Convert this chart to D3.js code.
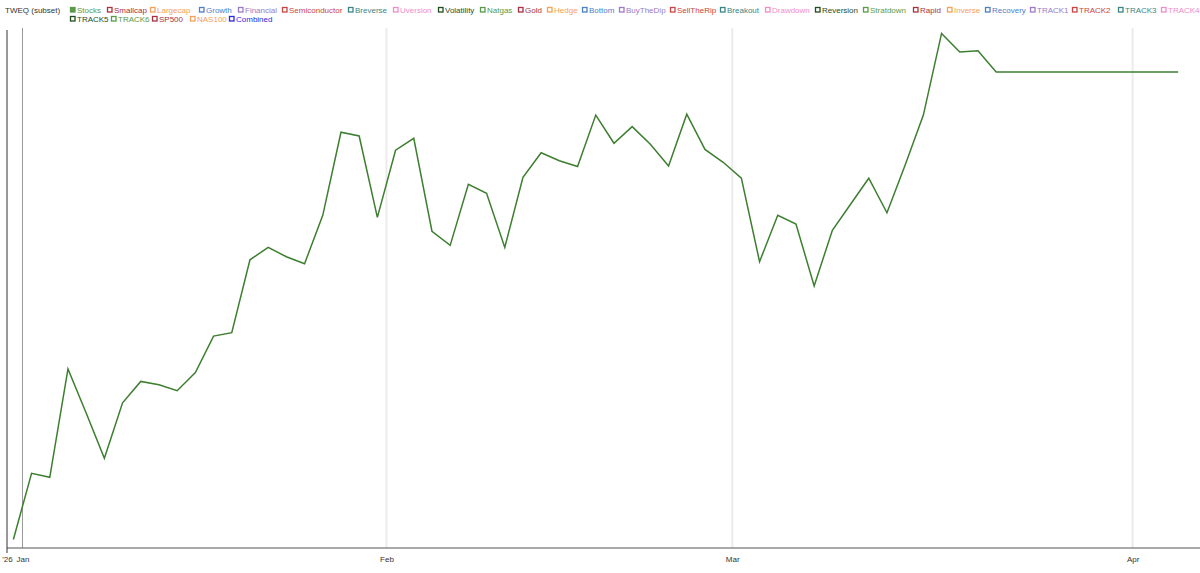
<!DOCTYPE html>
<html>
<head>
<meta charset="utf-8">
<script src="https://cdn.jsdelivr.net/npm/d3@7"></script>
<style>
  body { margin: 0; background: #fff; }
  svg { display: block; font-family: "Liberation Sans", Arial, sans-serif; }
</style>
</head>
<body>
<div id="chart"></div>
<script>
// trading days shown on the x axis (non-trading days collapsed)
var tradingDays = [
    "2025-12-31",
    "2026-01-02", "2026-01-05", "2026-01-06", "2026-01-07", "2026-01-08", "2026-01-09",
    "2026-01-12", "2026-01-13", "2026-01-14", "2026-01-15", "2026-01-16",
    "2026-01-20", "2026-01-21", "2026-01-22", "2026-01-23",
    "2026-01-26", "2026-01-27", "2026-01-28", "2026-01-29", "2026-01-30",
    "2026-02-02", "2026-02-03", "2026-02-04", "2026-02-05", "2026-02-06",
    "2026-02-09", "2026-02-10", "2026-02-11", "2026-02-12", "2026-02-13",
    "2026-02-17", "2026-02-18", "2026-02-19", "2026-02-20",
    "2026-02-23", "2026-02-24", "2026-02-25", "2026-02-26", "2026-02-27",
    "2026-03-02", "2026-03-03", "2026-03-04", "2026-03-05", "2026-03-06",
    "2026-03-09", "2026-03-10", "2026-03-11", "2026-03-12", "2026-03-13",
    "2026-03-16", "2026-03-17", "2026-03-18", "2026-03-19", "2026-03-20",
    "2026-03-23", "2026-03-24", "2026-03-25", "2026-03-26", "2026-03-27",
    "2026-03-30", "2026-03-31",
    "2026-04-01", "2026-04-02", "2026-04-06"
];

// Stocks series (cumulative return, %)
var stocksValues = [
    0.0, 3.90, 3.66, 10.04, 7.45, 4.78, 8.05, 9.31, 9.11, 8.76,
    9.83, 11.98, 12.18, 16.47, 17.20, 16.65, 16.24, 19.09, 23.98, 23.76,
    18.97, 22.92, 23.62, 18.15, 17.32, 20.91, 20.38, 17.20, 21.33, 22.77,
    22.30, 21.96, 24.99, 23.33, 24.31, 23.27, 21.99, 25.04, 22.97, 22.21,
    21.28, 16.36, 19.09, 18.58, 14.93, 18.21, 19.74, 21.27, 19.24, 22.05,
    24.99, 29.80, 28.70, 28.78, 27.53, 27.53, 27.53, 27.53, 27.53, 27.53,
    27.53, 27.53, 27.53, 27.53, 27.53
];

var monthLabels = ["Jan", "Feb", "Mar", "Apr"];
var yearLabel = "'26";

var legendTitle = "TWEQ (subset)";
var seriesNames = [
    "Stocks", "Smallcap", "Largecap", "Growth", "Financial", "Semiconductor", "Breverse", "Uversion",
    "Volatility", "Natgas", "Gold", "Hedge", "Bottom", "BuyTheDip", "SellTheRip", "Breakout", "Drawdown",
    "Reversion", "Stratdown", "Rapid", "Inverse", "Recovery", "TRACK1", "TRACK2", "TRACK3", "TRACK4",
    "TRACK5", "TRACK6", "SP500", "NAS100", "Combined"
];

// legend layout: x of each marker, and which row it sits on
var legendX = [70, 107, 150, 199, 238, 282, 348, 393, 438, 480, 518, 547, 582, 619, 670, 720, 765,
               815, 863, 913, 947, 985, 1030, 1072, 1118, 1161, 70, 111, 152, 190, 229];
var legendRow = seriesNames.map(function(d, i) { return i < 26 ? 0 : 1; });

var palette = ["#5a9a48", "#a83240", "#f5a05a", "#4c80c8", "#9b7bc4", "#cc4444", "#3d8585", "#f28cc8", "#1e4d1e"];
var seriesColor = function(i) {
    if (seriesNames[i] === "Combined") return "#2a2ae0";
    return palette[i % palette.length];
};

var width = 1200,
    height = 573,
    margin = {top: 30, left: 7, bottom: 25, right: 0};

var svg = d3.select("#chart").append("svg")
    .attr("width", width)
    .attr("height", height);

var x = d3.scaleLinear()
    .domain([-0.35, 65.2])
    .range([margin.left, width - margin.right]);

var y = d3.scaleLinear()
    .domain([-0.5, 30])
    .range([height - margin.bottom, margin.top]);

// month boundaries sit halfway between last and first trading day
var monthStarts = [];
tradingDays.forEach(function(d, i) {
    if (i > 0 && d.slice(5, 7) !== tradingDays[i - 1].slice(5, 7)) {
        monthStarts.push(i - 0.5);
    }
});

// grid lines
svg.append("g")
    .selectAll("line")
    .data(monthStarts)
    .enter().append("line")
    .attr("x1", function(d) { return x(d); })
    .attr("x2", function(d) { return x(d); })
    .attr("y1", margin.top - 2)
    .attr("y2", y.range()[0])
    .attr("stroke", function(d, i) { return i === 0 ? "#999" : "#ebebeb"; })
    .attr("stroke-width", function(d, i) { return i === 0 ? 1 : 2; });

// x axis
var tickVals = [x.domain()[0]].concat(monthStarts);
var tickText = [yearLabel].concat(monthLabels);
var xAxis = d3.axisBottom(x)
    .tickValues(tickVals)
    .tickFormat(function(d, i) { return tickText[i]; })
    .tickSize(0)
    .tickPadding(8);

var gx = svg.append("g")
    .attr("transform", "translate(0," + y.range()[0] + ")")
    .call(xAxis);
gx.select(".domain").attr("stroke", "#555").attr("d", "M" + margin.left + ",0H" + width);
gx.selectAll("text")
    .attr("fill", "#333")
    .attr("font-size", 8)
    .attr("font-family", "Liberation Sans, Arial, sans-serif");

// y axis line
var yAxis = d3.axisLeft(y).tickValues([]).tickSize(0);
var gy = svg.append("g")
    .attr("transform", "translate(" + margin.left + ",0)")
    .call(yAxis);
gy.select(".domain").attr("stroke", "#333")
    .attr("d", "M0," + margin.top + "V" + (y.range()[0] + 5));

// series line
var line = d3.line()
    .x(function(d, i) { return x(i); })
    .y(function(d) { return y(d); });

svg.append("path")
    .datum(stocksValues)
    .attr("fill", "none")
    .attr("stroke", "#3d7e30")
    .attr("stroke-width", 1.5)
    .attr("stroke-linejoin", "miter")
    .attr("d", line);

// legend
var legend = svg.append("g").attr("font-size", 8);

legend.append("text")
    .attr("x", 5)
    .attr("y", 13)
    .attr("fill", "#333")
    .text(legendTitle);

var item = legend.selectAll("g.item")
    .data(seriesNames)
    .enter().append("g")
    .attr("class", "item")
    .attr("transform", function(d, i) {
        return "translate(" + legendX[i] + "," + (13 + legendRow[i] * 9) + ")";
    });

item.append("rect")
    .attr("x", 0.5)
    .attr("y", -5.5)
    .attr("width", 4.5)
    .attr("height", 4.5)
    .attr("fill", function(d, i) { return i === 0 ? seriesColor(i) : "#fff"; })
    .attr("stroke", function(d, i) { return seriesColor(i); })
    .attr("stroke-width", 1.3);

item.append("text")
    .attr("x", 7)
    .attr("y", 0)
    .attr("fill", function(d, i) { return seriesColor(i); })
    .text(function(d) { return d; });
</script>
</body>
</html>
